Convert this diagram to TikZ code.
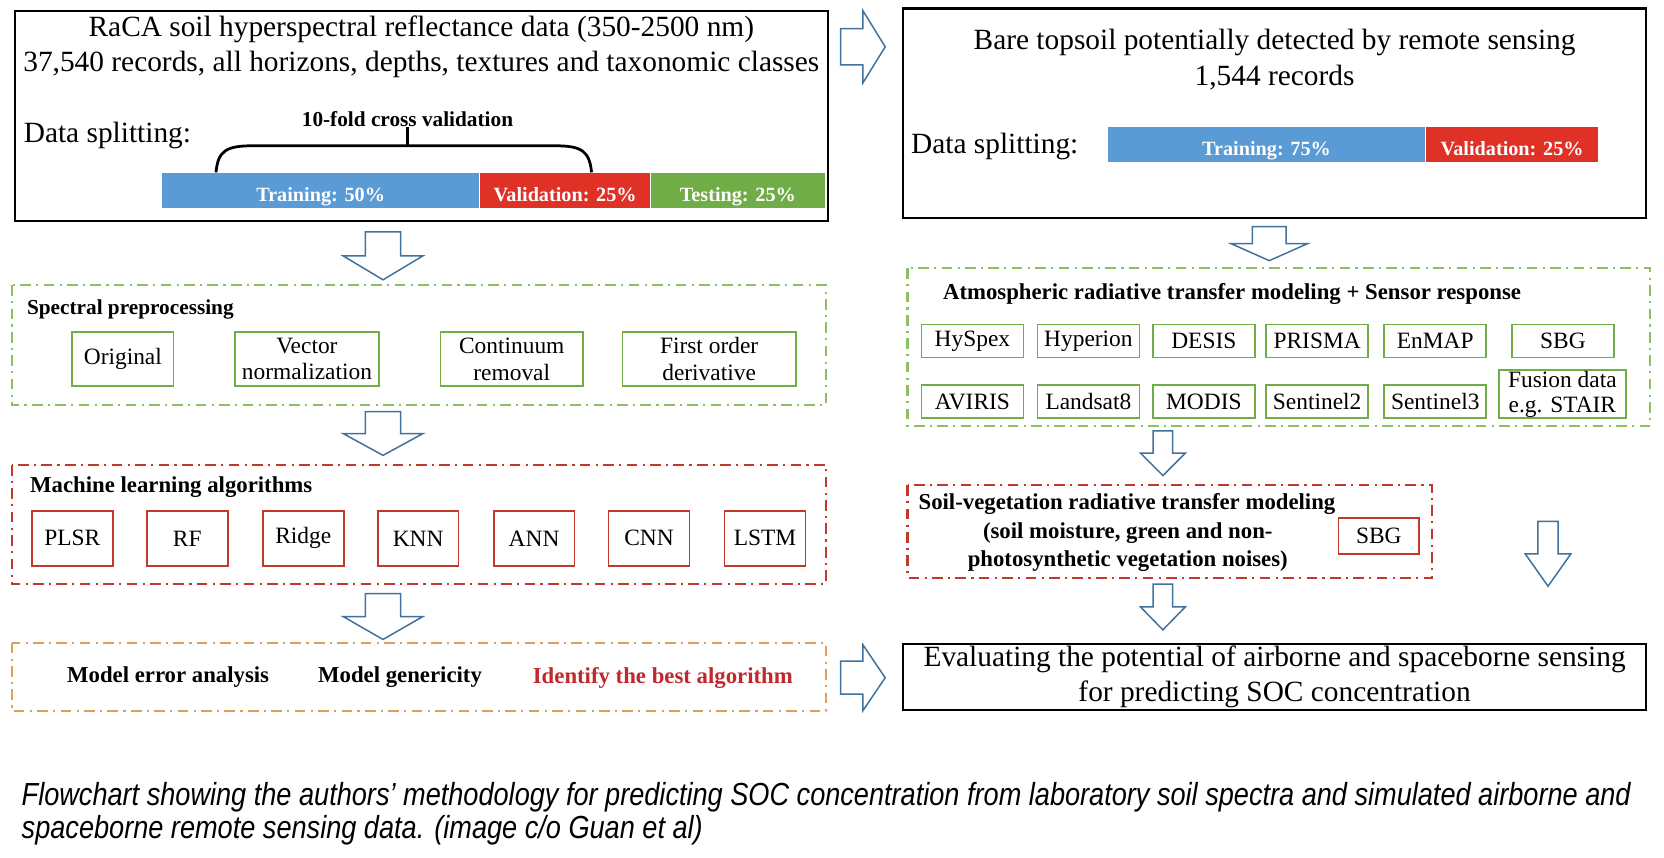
\documentclass[tikz,border=0pt]{standalone}
\usepackage{fontspec}
\setmainfont{Liberation Serif}
\newfontfamily\capfont[FakeStretch=0.85]{Liberation Sans}
\usetikzlibrary{positioning}

\definecolor{bartrain}{HTML}{5B9BD5}
\definecolor{barval}{HTML}{E03127}
\definecolor{bartest}{HTML}{70AD47}
\definecolor{boxgreen}{HTML}{70AD47}
\definecolor{dashgreen}{HTML}{8CC063}
\definecolor{boxred}{HTML}{C0392B}
\definecolor{dashorange}{HTML}{DE9F5A}
\definecolor{arrowblue}{HTML}{41719C}
\definecolor{bestred}{HTML}{C0282D}

\tikzset{
  frame/.style={draw=black, line width=1pt},
  dashdot/.style={line width=1pt, dash pattern=on 5pt off 2.5pt on 1pt off 2.5pt},
  arrowline/.style={draw=arrowblue, fill=white, line width=0.7pt, line join=miter},
  gbox/.style={draw=boxgreen, line width=0.8pt, align=center, inner sep=0pt,
    font=\fontsize{11}{12.5}\selectfont},
  rbox/.style={draw=boxred, line width=0.8pt, align=center, inner sep=0pt,
    font=\fontsize{11}{12.5}\selectfont},
  bar/.style={inner sep=0pt, text=white, text height=10.4pt, text depth=0pt,
    font=\bfseries\fontsize{9.5}{11}\selectfont},
  head/.style={font=\bfseries\fontsize{10.7}{12}\selectfont, inner sep=0pt},
  bigtext/.style={font=\fontsize{13.8}{16.5}\selectfont, align=center, inner sep=0pt},
  pics/downarr/.style={code={
    \draw[arrowline] (-0.22,0) -- (0.22,0) -- (0.22,0.5) -- (0.5,0.5) -- (0,1)
      -- (-0.5,0.5) -- (-0.22,0.5) -- cycle;}},
  pics/rightarr/.style={code={
    \draw[arrowline] (0,-0.25) -- (0.5,-0.25) -- (0.5,-0.5) -- (1,0) -- (0.5,0.5)
      -- (0.5,0.25) -- (0,0.25) -- cycle;}},
}

\begin{document}
\begin{tikzpicture}[x=0.5pt,y=-0.5pt]
\useasboundingbox (0,0) rectangle (1564,806);

% lab spectra
\draw[frame] (14,10) rectangle (778,208);
\node[bigtext] (racatitle) at (396,44) {RaCA soil hyperspectral reflectance data (350-2500 nm)\\
  37,540 records, all horizons, depths, textures and taxonomic classes};
\node[bigtext, anchor=west] (racasplit) at (22,127) {Data splitting:};
\node[head, font=\bfseries\fontsize{10}{12}\selectfont] (cvlabel) at (383,112) {10-fold cross validation};
\node[bar, fill=bartrain, minimum width=149pt, minimum height=16.5pt, anchor=north west] (train50) at (152,162) {Training: 50\%};
\node[bar, fill=barval, minimum width=80pt, minimum height=16.5pt, right=0pt of train50] (val25) {Validation: 25\%};
\node[bar, fill=bartest, minimum width=81.5pt, minimum height=16.5pt, right=0pt of val25] (test25) {Testing: 25\%};
\draw[line width=1.3pt] (203,162) .. controls (205,142) and (212,137) .. (238,137) -- (521,137)
  .. controls (547,137) and (554,142) .. (556,162);
\draw[line width=1.3pt] (383,137) -- (cvlabel.south);

% remote sensing subset
\draw[frame] (849,8) rectangle (1547,205);
\node[bigtext] (baretitle) at (1198,56) {Bare topsoil potentially detected by remote sensing\\1,544 records};
\node[bigtext, anchor=west] (baresplit) at (856,138) {Data splitting:};
\node[bar, fill=bartrain, minimum width=149pt, minimum height=16.5pt, anchor=north west] (train75) at (1041,119) {Training: 75\%};
\node[bar, fill=barval, minimum width=81pt, minimum height=16.5pt, right=0pt of train75] (val25b) {Validation: 25\%};

\pic[xscale=42,yscale=68] at (790,44) {rightarr};

% spectral preprocessing
\pic[xscale=75,yscale=45] at (360,218) {downarr};
\draw[dashdot, dashgreen] (11,268) rectangle (776,381);
\node[head, anchor=west, font=\bfseries\fontsize{10}{12}\selectfont] (prehead) at (25,291) {Spectral preprocessing};
\node[gbox, minimum width=47.5pt, minimum height=25.5pt] (orig) at (115.5,337.5) {Original};
\node[gbox, minimum width=67.5pt, minimum height=25.5pt] (vecnorm) at (288.5,337.5) {Vector\\normalization};
\node[gbox, minimum width=67pt, minimum height=25.5pt] (contrem) at (481,337.5) {Continuum\\removal};
\node[gbox, minimum width=81.5pt, minimum height=25.5pt] (firstder) at (666.5,337.5) {First order\\derivative};

% machine learning
\pic[xscale=75,yscale=41] at (360,387) {downarr};
\draw[dashdot, boxred] (11,437) rectangle (776,549);
\node[head, anchor=west] (mlhead) at (28,458) {Machine learning algorithms};
\node[rbox, minimum width=38pt, minimum height=26pt] (plsr) at (68,506) {PLSR};
\node[rbox, minimum width=38pt, minimum height=26pt] (rf) at (176,506) {RF};
\node[rbox, minimum width=38pt, minimum height=26pt] (ridge) at (285,506) {Ridge};
\node[rbox, minimum width=38pt, minimum height=26pt] (knn) at (393,506) {KNN};
\node[rbox, minimum width=38pt, minimum height=26pt] (ann) at (502,506) {ANN};
\node[rbox, minimum width=38pt, minimum height=26pt] (cnn) at (610,506) {CNN};
\node[rbox, minimum width=38pt, minimum height=26pt] (lstm) at (719,506) {LSTM};

% model evaluation
\pic[xscale=75,yscale=43] at (360,558) {downarr};
\draw[dashdot, dashorange] (11,604) rectangle (776,668);
\node[head] (errana) at (158,636) {Model error analysis};
\node[head] (generic) at (376,636) {Model genericity};
\node[head, text=bestred] (bestalg) at (623,637) {Identify the best algorithm};

\pic[xscale=42,yscale=62] at (790,637) {rightarr};

% atmospheric modeling
\pic[xscale=72,yscale=32] at (1193,213) {downarr};
\draw[dashdot, dashgreen] (853,252) rectangle (1551,400);
\node[head] (atmhead) at (1158,276) {Atmospheric radiative transfer modeling + Sensor response};
\node[gbox, minimum width=48pt, minimum height=15.5pt] (hyspex) at (914,320.5) {HySpex};
\node[gbox, minimum width=48pt, minimum height=15.5pt] (hyperion) at (1023,320.5) {Hyperion};
\node[gbox, minimum width=48pt, minimum height=15.5pt] (desis) at (1131.5,320.5) {DESIS};
\node[gbox, minimum width=48pt, minimum height=15.5pt] (prisma) at (1238,320.5) {PRISMA};
\node[gbox, minimum width=48pt, minimum height=15.5pt] (enmap) at (1349,320.5) {EnMAP};
\node[gbox, minimum width=48pt, minimum height=15.5pt] (sbg) at (1469,320.5) {SBG};
\node[gbox, minimum width=48pt, minimum height=15.5pt] (aviris) at (914,377.5) {AVIRIS};
\node[gbox, minimum width=48pt, minimum height=15.5pt] (landsat) at (1023,377.5) {Landsat8};
\node[gbox, minimum width=48pt, minimum height=15.5pt] (modis) at (1131.5,377.5) {MODIS};
\node[gbox, minimum width=48pt, minimum height=15.5pt] (senttwo) at (1238,377.5) {Sentinel2};
\node[gbox, minimum width=48pt, minimum height=15.5pt] (sentthree) at (1349,377.5) {Sentinel3};
\node[gbox, minimum width=59.5pt, minimum height=22.5pt, font=\fontsize{11}{11.5}\selectfont] (fusion) at (1468.5,370.5) {Fusion data\\e.g. STAIR};

% soil-vegetation modeling
\pic[xscale=42,yscale=42] at (1093,405) {downarr};
\draw[dashdot, boxred] (853,456) rectangle (1346,543);
\node[head, anchor=west] (soilhead) at (863,474) {Soil-vegetation radiative transfer modeling};
\node[head, align=center, font=\bfseries\fontsize{10.7}{13}\selectfont] (soilnote) at (1060,514) {(soil moisture, green and non-\\photosynthetic vegetation noises)};
\node[rbox, minimum width=38pt, minimum height=17pt] (sbgb) at (1296,504) {SBG};

\pic[xscale=42,yscale=43] at (1093,549) {downarr};
\pic[xscale=43,yscale=61] at (1455,490) {downarr};

% evaluation
\node[frame, bigtext, minimum width=349pt, minimum height=31pt, inner sep=0pt] (evalbox) at (1198,636)
  {Evaluating the potential of airborne and spaceborne sensing\\for predicting SOC concentration};

% caption
\node[anchor=west, align=left, inner sep=0pt, font=\capfont\itshape\fontsize{15}{15.5}\selectfont] (caption) at (20,765)
  {Flowchart showing the authors’ methodology for predicting SOC concentration from laboratory soil spectra and simulated airborne and\\
   spaceborne remote sensing data. (image c/o Guan et al)};
\end{tikzpicture}
\end{document}
